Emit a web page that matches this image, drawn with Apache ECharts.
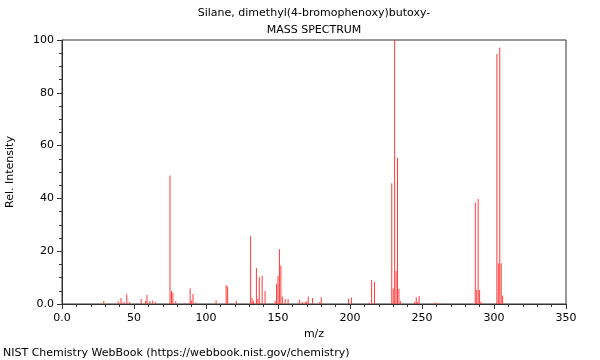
<!DOCTYPE html>
<html>
<head>
<meta charset="utf-8">
<script src="https://cdn.jsdelivr.net/npm/echarts@6/dist/echarts.min.js"></script>
<style>
  html, body { margin: 0; padding: 0; background: #fff; }
  #chart { width: 600px; height: 360px; }
</style>
</head>
<body>
<div id="chart"></div>
<script>
// m/z values and relative intensities
const mz = [29, 39, 41, 43, 45, 47, 55, 58, 59, 61, 63, 65, 75, 76, 77, 79, 85, 89, 90, 91, 93,
  107, 114, 115, 121, 131, 132, 133, 135, 136, 137, 139, 141, 148, 149, 150, 151, 152, 153, 155, 157,
  165, 167, 169, 170, 171, 174, 179, 180, 199, 201, 213, 215, 217,
  229, 230, 231, 232, 233, 234, 235, 245, 246, 247, 248, 259, 261,
  287, 288, 289, 290, 291, 302, 303, 304, 305, 306];
const intensity = [1.1, 1, 2.3, 0.8, 3.7, 0.8, 1.9, 1.2, 3.4, 1.1, 1.3, 0.8, 48.7, 4.9, 4.3, 1, 0.3, 5.9, 1.3, 3.8, 0.6,
  1.4, 7.2, 6.6, 1.1, 25.8, 2.3, 1, 13.6, 2, 10.2, 10.7, 4.9, 1, 7.6, 10.6, 20.7, 14.5, 2.8, 1.9, 1.9,
  1.6, 0.8, 0.8, 1, 2.8, 2.3, 0.8, 2.6, 2, 2.5, 0.5, 9.1, 8.3,
  45.7, 5.9, 100, 12.5, 55.4, 5.7, 1, 0.8, 2.6, 0.8, 3, 0.6, 0.5,
  38.4, 5.3, 39.8, 5.3, 0.8, 94.7, 15.4, 97.2, 15.4, 3.2];

const xTicks = [0, 50, 100, 150, 200, 250, 300, 350];
const yTicks = [0, 20, 40, 60, 80, 100];

const titleLines = ['Silane, dimethyl(4-bromophenoxy)butoxy-', 'MASS SPECTRUM'];
const footer = 'NIST Chemistry WebBook (https://webbook.nist.gov/chemistry)';

const font = 'DejaVu Sans';
const chart = echarts.init(document.getElementById('chart'), null, { renderer: 'canvas' });

const option = {
  animation: false,
  textStyle: { fontFamily: font },
  grid: {
    left: 62, right: 34, top: 40, bottom: 56,
    outerBoundsMode: 'none',
    show: true, borderColor: '#333', borderWidth: 1, backgroundColor: 'transparent'
  },
  xAxis: {
    type: 'value',
    min: xTicks[0], max: xTicks[xTicks.length - 1], interval: 50,
    name: 'm/z', nameLocation: 'middle', nameGap: 24,
    nameTextStyle: { fontSize: 11, color: '#000', fontFamily: font },
    axisLine: { lineStyle: { color: '#333' } },
    axisTick: { length: 5, lineStyle: { color: '#333' } },
    minorTick: { show: true, splitNumber: 5, length: 3, lineStyle: { color: '#333' } },
    splitLine: { show: false },
    axisLabel: {
      margin: 9, fontSize: 11, color: '#000', fontFamily: font,
      formatter: v => v === 0 ? '0.0' : String(v)
    }
  },
  yAxis: {
    type: 'value',
    min: yTicks[0], max: yTicks[yTicks.length - 1], interval: 20,
    name: 'Rel. Intensity', nameLocation: 'middle', nameGap: 46,
    nameTextStyle: { fontSize: 11, color: '#000', fontFamily: font },
    axisLine: { show: true, lineStyle: { color: '#333' } },
    axisTick: { show: true, length: 5, lineStyle: { color: '#333' } },
    minorTick: { show: true, splitNumber: 4, length: 3, lineStyle: { color: '#333' } },
    splitLine: { show: false },
    axisLabel: {
      margin: 8, fontSize: 11, color: '#000', fontFamily: font,
      formatter: v => v === 0 ? '0.0' : String(v)
    }
  },
  graphic: [
    { type: 'text', x: 314, y: 13, style: { text: titleLines[0], font: '11px "DejaVu Sans"', fill: '#000', textAlign: 'center', textVerticalAlign: 'middle' } },
    { type: 'text', x: 314, y: 30, style: { text: titleLines[1], font: '11px "DejaVu Sans"', fill: '#000', textAlign: 'center', textVerticalAlign: 'middle' } },
    { type: 'text', x: 3, y: 353, style: { text: footer, font: '11px "DejaVu Sans"', fill: '#000', textAlign: 'left', textVerticalAlign: 'middle' } }
  ],
  series: [{
    type: 'bar',
    data: mz.map((m, i) => [m, intensity[i]]),
    barWidth: 1,
    itemStyle: { color: '#ff3b3b' },
    silent: true
  }]
};

chart.setOption(option);
</script>
</body>
</html>
